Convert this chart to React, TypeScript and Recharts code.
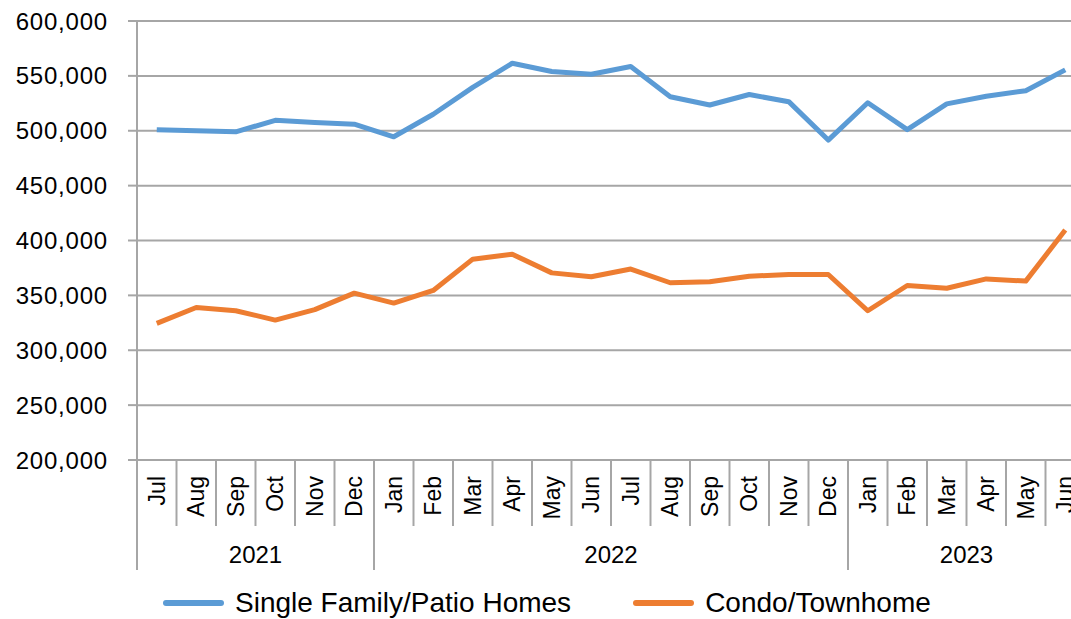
import { LineChart, Line, XAxis, YAxis, CartesianGrid, Legend } from "recharts";

const months = ["Jul", "Aug", "Sep", "Oct", "Nov", "Dec", "Jan", "Feb", "Mar", "Apr", "May", "Jun",
  "Jul", "Aug", "Sep", "Oct", "Nov", "Dec", "Jan", "Feb", "Mar", "Apr", "May", "Jun"];
const years = ["2021", "2021", "2021", "2021", "2021", "2021",
  "2022", "2022", "2022", "2022", "2022", "2022", "2022", "2022", "2022", "2022", "2022", "2022",
  "2023", "2023", "2023", "2023", "2023", "2023"];
const singleFamily = [501000, 500000, 499000, 509500, 507500, 506000, 494500, 515000, 539500, 561500, 554000, 551500,
  558500, 531000, 523500, 533000, 526500, 491500, 525500, 501000, 524500, 531500, 536500, 555500];
const condo = [324500, 339000, 336000, 327500, 337000, 352000, 343000, 354500, 383000, 387500, 370500, 367000,
  374000, 361500, 362500, 367500, 369000, 369000, 336000, 359000, 356500, 365000, 363000, 409500];
const yTicks = [200000, 250000, 300000, 350000, 400000, 450000, 500000, 550000, 600000];

const seriesNames = ["Single Family/Patio Homes", "Condo/Townhome"];
const seriesColors = ["#5B9BD5", "#ED7D31"];

const data = months.map((m, i) => ({
  key: `${m}-${years[i]}`,
  month: m,
  year: years[i],
  single: singleFamily[i],
  condo: condo[i],
}));

const FONT = '"Liberation Sans", Arial, sans-serif';
const GRID = "#A6A6A6";
const CHART_W = 1100;
const CHART_H = 619;
const Y_AXIS_W = 137;
const MARGIN_R = 15;
const BAND = (CHART_W - Y_AXIS_W - MARGIN_R) / months.length;

const MonthTick = ({ x, y, payload }: any) => {
  const i = payload.index;
  const left = x - BAND / 2;
  const groupStart = i === 0 || years[i] !== years[i - 1];
  let yearLabel = null;
  if (groupStart) {
    const n = years.filter((yy) => yy === years[i]).length;
    yearLabel = (
      <text x={left + (n * BAND) / 2} y={y + 95} textAnchor="middle" dy="0.35em"
        fontSize={24} fontFamily={FONT} fill="#000">
        {years[i]}
      </text>
    );
  }
  // rotated month label, its top end sits just under the axis
  const ty = y + 16;
  return (
    <g>
      <line x1={left} x2={left} y1={y} y2={groupStart ? y + 110 : y + 66} stroke={GRID} strokeWidth={2} />
      <text x={x} y={ty} transform={`rotate(-90, ${x}, ${ty})`} textAnchor="end" dy="0.35em"
        fontSize={23} fontFamily={FONT} fill="#000">
        {months[i]}
      </text>
      {yearLabel}
    </g>
  );
};

const LegendContent = () => (
  <div style={{ display: "flex", alignItems: "center", paddingLeft: 163, paddingTop: 16, height: 33, fontFamily: FONT, fontSize: 28, color: "#000" }}>
    {seriesNames.map((name, i) => (
      <div key={name} style={{ display: "flex", alignItems: "center", marginRight: 62 }}>
        <div style={{ width: 61, height: 6, borderRadius: 3, background: seriesColors[i], marginRight: 11 }} />
        <span>{name}</span>
      </div>
    ))}
  </div>
);

export default function App() {
  return (
    <div style={{ position: "absolute", left: 0, top: 0, width: 1071, height: 619, overflow: "hidden", background: "#fff" }}>
      <LineChart width={CHART_W} height={CHART_H} data={data} margin={{ top: 21, right: MARGIN_R, left: 0, bottom: 0 }}>
        <CartesianGrid vertical={false} stroke={GRID} strokeWidth={2} />
        <XAxis
          dataKey="key"
          interval={0}
          height={110}
          padding={{ left: BAND / 2, right: BAND / 2 }}
          tickLine={false}
          tickSize={0}
          tickMargin={0}
          axisLine={{ stroke: GRID, strokeWidth: 2 }}
          tick={(props: any) => <MonthTick {...props} />}
        />
        <YAxis
          width={Y_AXIS_W}
          domain={[200000, 600000]}
          ticks={yTicks}
          interval={0}
          tickSize={9}
          tickMargin={20}
          tickLine={{ stroke: GRID, strokeWidth: 2 }}
          axisLine={{ stroke: GRID, strokeWidth: 2 }}
          tickFormatter={(v: number) => v.toLocaleString("en-US")}
          tick={{ fontSize: 24, fontFamily: FONT, fill: "#000", letterSpacing: 0.8 }}
        />
        <Legend verticalAlign="bottom" height={49} wrapperStyle={{ left: 0, width: 1071 }} content={<LegendContent />} />
        <Line type="linear" dataKey="single" name={seriesNames[0]} stroke={seriesColors[0]} strokeWidth={5}
          strokeLinejoin="round" dot={false} activeDot={false} isAnimationActive={false} />
        <Line type="linear" dataKey="condo" name={seriesNames[1]} stroke={seriesColors[1]} strokeWidth={5}
          strokeLinejoin="round" dot={false} activeDot={false} isAnimationActive={false} />
      </LineChart>
    </div>
  );
}
